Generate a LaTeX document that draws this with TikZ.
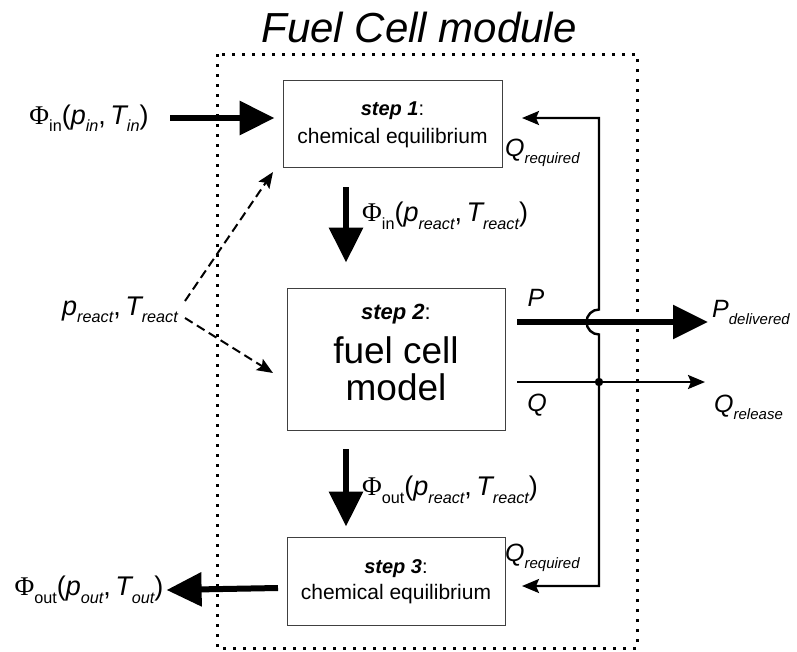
\documentclass[tikz,border=0pt]{standalone}
\usepackage{fontspec}
\setmainfont{Liberation Sans}
\newfontfamily\phifont{Liberation Serif}
\usetikzlibrary{arrows.meta}
\newcommand\sbx[1]{\raisebox{-0.28em}{\scalebox{0.6}{#1}}}
\newcommand\fsz[1]{\fontsize{#1}{#1}\selectfont}
\begin{document}
\begin{tikzpicture}[x=1pt,y=-1pt,
  box/.style={draw=black!75,line width=0.9pt,inner sep=0pt},
  boxtext/.style={align=center,inner sep=0pt},
  bigarrow/.style={line width=6pt,-{Triangle[length=35pt,width=33pt]}},
  thinarrow/.style={line width=2.4pt,-{Stealth[length=17pt,width=14pt,inset=3pt]}},
  dasharrow/.style={line width=2pt,dash pattern=on 9pt off 5pt,-{Stealth[length=16pt,width=13pt,inset=3pt]}},
  lbl/.style={inner sep=0pt,font=\fsz{27}},
  qlbl/.style={inner sep=0pt,font=\fsz{25}},
  border/.style={line width=3pt,dash pattern=on 3pt off 7pt}]
\useasboundingbox (0,0) rectangle (797,651);
\draw[border] (217,54) rectangle (637,648);
\node[inner sep=0pt,font=\fsz{42}\itshape] (title) at (419,27) {Fuel Cell module};
% boxes
\node[box,minimum width=219pt,minimum height=87pt] (box1) at (392.5,123.5) {};
\node[box,minimum width=218pt,minimum height=142pt] (box2) at (396,359) {};
\node[box,minimum width=218pt,minimum height=88pt] (box3) at (396,581) {};
\node[boxtext,font=\fsz{20}] (s1) at (392.5,111) {\textbf{\textit{step 1}}:};
\node[boxtext,font=\fsz{21}] (c1) at (392.5,138) {chemical equilibrium};
\node[boxtext,font=\fsz{22}] (s2) at (396,314) {\textbf{\textit{step 2}}:};
\node[boxtext,font=\fsz{37}] (f2) at (396,350) {fuel cell};
\node[boxtext,font=\fsz{37}] (m2) at (396,387) {model};
\node[boxtext,font=\fsz{20}] (s3) at (396,569) {\textbf{\textit{step 3}}:};
\node[boxtext,font=\fsz{21}] (c3) at (396,594) {chemical equilibrium};
% labels
\node[lbl] (phiin) at (89,118) {{\phifont Φ}\sbx{in}({\itshape p}\sbx{\itshape in},\,{\itshape T}\sbx{\itshape in})};
\node[lbl,anchor=west] (phiin2) at (362,216) {{\phifont Φ}\sbx{in}({\itshape p}\sbx{\itshape react},\,{\itshape T}\sbx{\itshape react})};
\node[lbl,anchor=west] (phiout2) at (362,490) {{\phifont Φ}\sbx{out}({\itshape p}\sbx{\itshape react},\,{\itshape T}\sbx{\itshape react})};
\node[lbl] (phiout) at (89,590) {{\phifont Φ}\sbx{out}({\itshape p}\sbx{\itshape out},\,{\itshape T}\sbx{\itshape out})};
\node[lbl] (preact) at (120,310) {{\itshape p}\sbx{\itshape react},\,{\itshape T}\sbx{\itshape react}};
\node[qlbl,anchor=west] (qreq1) at (505,153) {{\itshape Q}\sbx{\itshape required}};
\node[qlbl,anchor=west] (qreq2) at (505,558) {{\itshape Q}\sbx{\itshape required}};
\node[qlbl] (plbl) at (536,298) {\itshape P};
\node[qlbl] (qlbl) at (537,405) {\itshape Q};
\node[qlbl,anchor=west] (pdel) at (712,312) {{\itshape P}\sbx{\itshape delivered}};
\node[qlbl,anchor=west] (qrel) at (714,407) {{\itshape Q}\sbx{\itshape release}};
% coordinates
\coordinate (inS) at (170,118);
\coordinate (d1S) at (346,187);
\coordinate (d2S) at (346,449);
\coordinate (outS) at (278,588);
\coordinate (dsA) at (185,301);
\coordinate (dsB) at (185,318);
\coordinate (dtA) at (273,172);
\coordinate (dtB) at (273,373);
\coordinate (qt) at (599,118);
\coordinate (qtE) at (522,118);
\coordinate (qb) at (599,586);
\coordinate (qbE) at (522,586);
\coordinate (hop) at (599,309.5);
\coordinate (pS) at (517,322);
\coordinate (pE) at (708,322);
\coordinate (qS) at (517,382);
\coordinate (qE) at (705,382);
\coordinate (jn) at (599,382);
% connectors
\draw[bigarrow] (inS) -- ([xshift=-8pt]box1.west |- inS);
\draw[bigarrow,shorten >=25pt] (d1S) -- (d1S |- box2.north);
\draw[bigarrow,shorten >=10pt] (d2S) -- (d2S |- box3.north);
\draw[bigarrow] (outS) -- ([xshift=3pt]phiout.east);
\draw[dasharrow] (dsA) -- (dtA);
\draw[dasharrow] (dsB) -- (dtB);
\draw[line width=2.4pt,{Stealth[length=17pt,width=14pt,inset=3pt]}-{Stealth[length=17pt,width=14pt,inset=3pt]}]
  (qtE) -- (qt) -- (hop) arc (270:90:12.5) -- (qb) -- (qbE);
\draw[bigarrow] (pS) -- (pE);
\draw[thinarrow] (qS) -- (qE);
\fill (jn) circle (4.2pt);
\end{tikzpicture}
\end{document}
